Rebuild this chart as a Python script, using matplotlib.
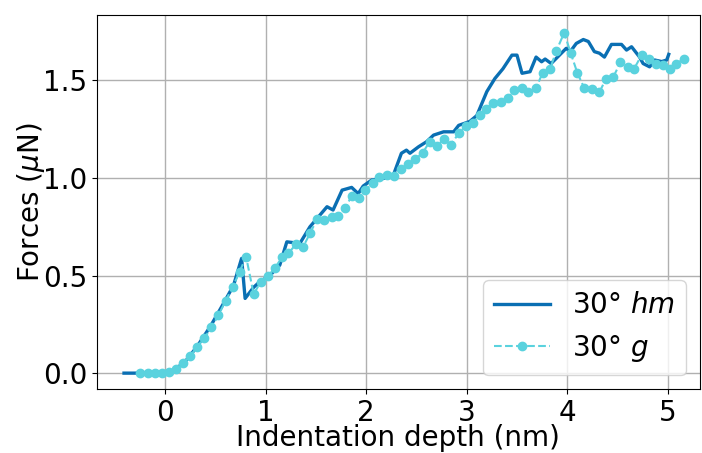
import numpy as np
import matplotlib.pyplot as plt

# 30° hm (solid)
hm_x = [-0.41, 0.05, 0.20, 0.315, 0.45, 0.58, 0.68, 0.76, 0.795, 0.88, 0.94, 1.04, 1.14,
        1.21, 1.34, 1.44, 1.61, 1.67, 1.76, 1.855, 1.92, 1.97, 2.055, 2.17, 2.27, 2.35,
        2.40, 2.435, 2.52, 2.60, 2.67, 2.77, 2.87, 2.92, 3.03, 3.10, 3.13, 3.20, 3.28,
        3.36, 3.45, 3.50, 3.55, 3.63, 3.69, 3.745, 3.78, 3.84, 3.99, 4.03, 4.09, 4.16,
        4.21, 4.27, 4.32, 4.37, 4.44, 4.54, 4.59, 4.64, 4.72, 4.755, 4.82, 4.87, 4.94,
        4.99, 5.01]
hm_y = [0.0, 0.0, 0.06, 0.135, 0.24, 0.357, 0.45, 0.588, 0.383, 0.44, 0.468, 0.50, 0.554,
        0.673, 0.665, 0.75, 0.853, 0.836, 0.938, 0.952, 0.92, 0.959, 0.99, 0.998, 1.015,
        1.127, 1.143, 1.127, 1.16, 1.186, 1.22, 1.237, 1.237, 1.27, 1.29, 1.32, 1.357,
        1.443, 1.51, 1.56, 1.63, 1.63, 1.537, 1.545, 1.62, 1.596, 1.61, 1.587, 1.665,
        1.648, 1.69, 1.71, 1.70, 1.648, 1.64, 1.62, 1.685, 1.685, 1.656, 1.673, 1.62,
        1.587, 1.57, 1.605, 1.597, 1.605, 1.634]

# 30° g (dashed with markers)
g_x = [-0.25, -0.176, -0.106, -0.033, 0.033, 0.11, 0.176, 0.25, 0.315, 0.39, 0.46, 0.53,
       0.60, 0.67, 0.74, 0.805, 0.88, 0.95, 1.02, 1.09, 1.16, 1.225, 1.30, 1.37, 1.44,
       1.51, 1.58, 1.655, 1.72, 1.79, 1.855, 1.93, 1.99, 2.065, 2.13, 2.21, 2.28, 2.35,
       2.42, 2.49, 2.56, 2.63, 2.70, 2.77, 2.84, 2.92, 2.99, 3.06, 3.13, 3.19, 3.26,
       3.34, 3.41, 3.47, 3.55, 3.61, 3.69, 3.755, 3.83, 3.89, 3.97, 4.035, 4.10, 4.17,
       4.25, 4.32, 4.385, 4.46, 4.53, 4.60, 4.665, 4.74, 4.81, 4.88, 4.95, 5.02, 5.085,
       5.16]
g_y = [0.0, 0.0, 0.0, 0.0, 0.007, 0.02, 0.05, 0.087, 0.135, 0.18, 0.234, 0.297, 0.37,
       0.44, 0.52, 0.596, 0.405, 0.468, 0.497, 0.537, 0.593, 0.614, 0.66, 0.645, 0.716,
       0.788, 0.785, 0.80, 0.805, 0.845, 0.908, 0.896, 0.938, 0.973, 1.007, 1.015, 1.012,
       1.044, 1.072, 1.099, 1.127, 1.186, 1.164, 1.198, 1.169, 1.229, 1.267, 1.28, 1.323,
       1.354, 1.386, 1.388, 1.41, 1.45, 1.46, 1.44, 1.46, 1.54, 1.56, 1.65, 1.745, 1.64,
       1.54, 1.46, 1.456, 1.44, 1.508, 1.52, 1.593, 1.57, 1.56, 1.63, 1.61, 1.587, 1.582,
       1.56, 1.587, 1.61]

fig, ax = plt.subplots(figsize=(7.02, 4.53), dpi=100)
fig.subplots_adjust(left=0.138, right=0.997, top=0.967, bottom=0.141)

ax.plot(hm_x, hm_y, color='#0a6fb3', linewidth=2.4, label=r'30° $hm$')
ax.plot(g_x, g_y, color='#5ad2de', linestyle='--', linewidth=1.5, marker='o',
        markersize=6, label=r'30° $g$')

ax.set_xlim(-0.68, 5.32)
ax.set_ylim(-0.082, 1.836)
ax.set_xticks([0, 1, 2, 3, 4, 5])
ax.set_yticks([0.0, 0.5, 1.0, 1.5])
ax.grid(True, color='#b0b0b0', linewidth=1)
ax.set_axisbelow(True)
ax.tick_params(labelsize=20)
ax.set_xlabel('Indentation depth (nm)', fontsize=20, labelpad=-2)
ax.set_ylabel(r'Forces ($\mu$N)', fontsize=20, labelpad=-3)
ax.legend(loc='lower right', fontsize=20)

plt.savefig('out.png')
